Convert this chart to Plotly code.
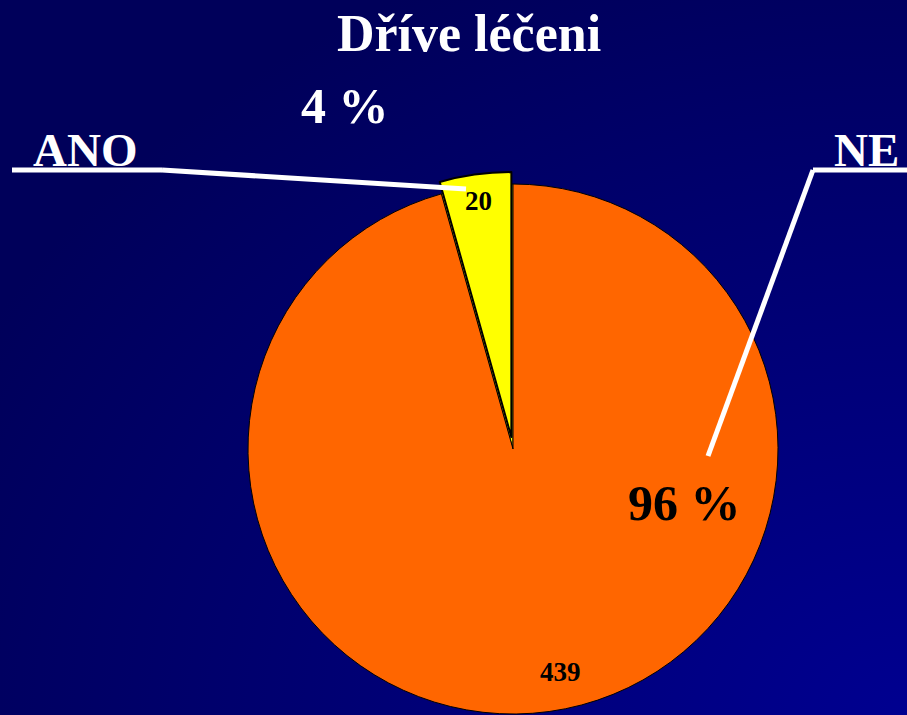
import base64
import math

import plotly.graph_objects as go

# ── Data ───────────────────────────────────────────────────────────────────────
labels = ["ANO", "NE"]
values = [20, 439]
slice_colors = ["#FFFF00", "#FF6600"]
title_text = "Dříve léčeni"

# ── Style ──────────────────────────────────────────────────────────────────────
W, H = 907, 715
FONT = "Liberation Serif"
WHITE = "#FFFFFF"
BLACK = "#000000"
CX, CY, R = 513, 449, 265  # pie centre / radius in pixels
PULL_PX = 12  # yellow slice pulled out


def px(x, y):
    """pixel -> paper coords"""
    return x / W, 1 - y / H


def domain(cx, cy, r):
    x0, y1 = px(cx - r, cy - r)
    x1, y0 = px(cx + r, cy + r)
    return dict(x=[x0, x1], y=[max(y0, 0), min(y1, 1)])


total = sum(values)
spans = [v / total * 360 for v in values]
# angles measured counterclockwise from 12 o'clock
starts = [sum(spans[:i]) for i in range(len(spans))]
mids = [s + sp / 2 for s, sp in zip(starts, spans)]

# pulled slice offset along its bisector
m0 = math.radians(mids[0])
pdx, pdy = -math.sin(m0) * PULL_PX, -math.cos(m0) * PULL_PX

svg = (
    f"<svg xmlns='http://www.w3.org/2000/svg' width='{W}' height='{H}'>"
    "<defs><radialGradient id='g' cx='1' cy='1' r='1.15'>"
    "<stop offset='0' stop-color='#000090'/>"
    "<stop offset='1' stop-color='#00005A'/>"
    "</radialGradient></defs>"
    f"<rect width='{W}' height='{H}' fill='url(#g)'/></svg>"
)
bg_src = "data:image/svg+xml;base64," + base64.b64encode(svg.encode()).decode()

fig = go.Figure()
fig.add_trace(
    go.Pie(
        labels=labels,
        values=values,
        sort=False,
        direction="clockwise",
        rotation=-spans[0],
        marker=dict(colors=slice_colors, line=dict(color=BLACK, width=1)),
        textinfo="none",
        domain=domain(CX, CY, R),
        hovertemplate="%{label}: %{value}<extra></extra>",
    )
)
fig.add_trace(
    go.Pie(
        labels=labels,
        values=values,
        sort=False,
        direction="clockwise",
        rotation=-spans[0],
        marker=dict(
            colors=[slice_colors[0], "rgba(0,0,0,0)"],
            line=dict(color=[BLACK, "rgba(0,0,0,0)"], width=[2, 0]),
        ),
        textinfo="none",
        domain=domain(CX + pdx, CY + pdy, R),
        hoverinfo="skip",
    )
)

annotations = []
# value labels inside the slices (fraction along span, fraction of radius)
label_at = [(0.5, 0.9), (0.5125, 0.86)]
for i, v in enumerate(values):
    fa, fr = label_at[i]
    a = math.radians(starts[i] + spans[i] * fa)
    ox, oy = (pdx, pdy) if i == 0 else (0, 0)
    x = CX + ox - math.sin(a) * R * fr
    y = CY + oy - math.cos(a) * R * fr
    xx, yy = px(x, y)
    annotations.append(
        dict(
            x=xx, y=yy, text=str(v), showarrow=False,
            xanchor="center", yanchor="middle",
            font=dict(family=FONT, size=27, color=BLACK, weight="bold"),
        )
    )

# percentages
pcts = [f"{round(v / total * 100)} %" for v in values]
for text, (x, y), col in zip(pcts, [(345, 106), (684, 503)], [WHITE, BLACK]):
    xx, yy = px(x, y)
    annotations.append(
        dict(
            x=xx, y=yy, text=text, showarrow=False,
            xanchor="center", yanchor="middle",
            font=dict(family=FONT, size=50, color=col, weight="bold"),
        )
    )

# category labels
for text, (x, y) in zip(labels, [(85, 150), (866, 150)]):
    xx, yy = px(x, y)
    annotations.append(
        dict(
            x=xx, y=yy, text=text, showarrow=False,
            xanchor="center", yanchor="middle",
            font=dict(family=FONT, size=47, color=WHITE, weight="bold"),
        )
    )

shapes = []
leaders = [
    [(12, 170), (162, 170), (466, 189)],
    [(907, 170), (813, 170), (708, 456)],
]
for pts in leaders:
    for (xa, ya), (xb, yb) in zip(pts[:-1], pts[1:]):
        x0, y0 = px(xa, ya)
        x1, y1 = px(xb, yb)
        shapes.append(
            dict(
                type="line", xref="paper", yref="paper",
                x0=x0, y0=y0, x1=x1, y1=y1,
                line=dict(color=WHITE, width=5),
            )
        )

tx, ty = px(469, 33)
fig.update_layout(
    width=W,
    height=H,
    margin=dict(l=0, r=0, t=0, b=0),
    paper_bgcolor="#000070",
    plot_bgcolor="rgba(0,0,0,0)",
    showlegend=False,
    title=dict(
        text=title_text, x=tx, y=ty, xanchor="center", yanchor="middle",
        font=dict(family=FONT, size=52, color=WHITE, weight="bold"),
    ),
    annotations=annotations,
    shapes=shapes,
    images=[
        dict(
            source=bg_src, xref="paper", yref="paper", x=0, y=1,
            sizex=1, sizey=1, sizing="stretch", layer="below",
            xanchor="left", yanchor="top",
        )
    ],
)

fig.write_html(
    "out.html",
    config=dict(displayModeBar=False),
    post_script="document.body.style.margin='0';document.body.style.overflow='hidden';",
)
